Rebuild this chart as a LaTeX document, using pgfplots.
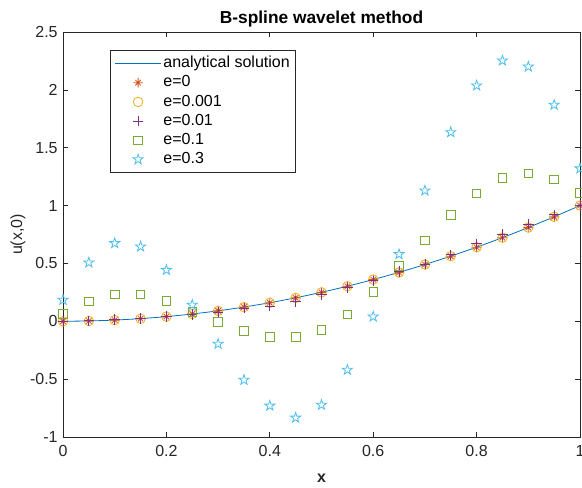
\documentclass[border=0pt]{standalone}
\usepackage{fontspec}
\setmainfont{Liberation Sans}
\usepackage{pgfplots}
\usepackage{pgfplotstable}
\pgfplotsset{compat=1.18}
\usetikzlibrary{calc}

\definecolor{axgray}{HTML}{262626}
\definecolor{mblue}{HTML}{0072BD}
\definecolor{morange}{HTML}{D95319}
\definecolor{myellow}{HTML}{EDB120}
\definecolor{mpurple}{HTML}{7E2F8E}
\definecolor{mgreen}{HTML}{77AC30}
\definecolor{mcyan}{HTML}{4DBEEE}

\newcommand\fs{\fontsize{12}{14}\selectfont}

% MATLAB-like markers
\pgfdeclareplotmark{pentagram}{%
  \pgfpathmoveto{\pgfpointpolar{90}{\pgfplotmarksize}}%
  \pgfpathlineto{\pgfpointpolar{126}{0.382\pgfplotmarksize}}%
  \pgfpathlineto{\pgfpointpolar{162}{\pgfplotmarksize}}%
  \pgfpathlineto{\pgfpointpolar{198}{0.382\pgfplotmarksize}}%
  \pgfpathlineto{\pgfpointpolar{234}{\pgfplotmarksize}}%
  \pgfpathlineto{\pgfpointpolar{270}{0.382\pgfplotmarksize}}%
  \pgfpathlineto{\pgfpointpolar{306}{\pgfplotmarksize}}%
  \pgfpathlineto{\pgfpointpolar{342}{0.382\pgfplotmarksize}}%
  \pgfpathlineto{\pgfpointpolar{18}{\pgfplotmarksize}}%
  \pgfpathlineto{\pgfpointpolar{54}{0.382\pgfplotmarksize}}%
  \pgfpathclose\pgfusepathqstroke}
\pgfdeclareplotmark{ast8}{%
  \pgfpathmoveto{\pgfpointpolar{0}{\pgfplotmarksize}}\pgfpathlineto{\pgfpointpolar{180}{\pgfplotmarksize}}%
  \pgfpathmoveto{\pgfpointpolar{90}{\pgfplotmarksize}}\pgfpathlineto{\pgfpointpolar{270}{\pgfplotmarksize}}%
  \pgfpathmoveto{\pgfpointpolar{45}{0.8\pgfplotmarksize}}\pgfpathlineto{\pgfpointpolar{225}{0.8\pgfplotmarksize}}%
  \pgfpathmoveto{\pgfpointpolar{135}{0.8\pgfplotmarksize}}\pgfpathlineto{\pgfpointpolar{315}{0.8\pgfplotmarksize}}%
  \pgfusepathqstroke}

\pgfplotsset{
  mk/.style={only marks, line width=0.6pt,
    legend image code/.code={\draw[mark repeat=2,mark phase=2,##1] plot coordinates {(0pt,0pt)(17.5pt,0pt)(35pt,0pt)};}},
  ln/.style={legend image code/.code={\draw[##1] (0pt,0pt) -- (35pt,0pt);}},
}

% x, analytical, e=0, e=0.001, e=0.01, e=0.1, e=0.3
\pgfplotstableread{
x     exact   ez      eone    etwo    ethree  efour
0.00  0.0000  0.0000  0.0000  0.000   0.065   0.184
0.05  0.0025  0.0025  0.0025  0.005   0.172   0.507
0.10  0.0100  0.0100  0.0100  0.015   0.232   0.674
0.15  0.0225  0.0225  0.0225  0.025   0.232   0.645
0.20  0.0400  0.0400  0.0400  0.040   0.175   0.443
0.25  0.0625  0.0625  0.0625  0.060   0.083   0.141
0.30  0.0900  0.0900  0.0900  0.080  -0.005  -0.196
0.35  0.1225  0.1225  0.1225  0.115  -0.085  -0.507
0.40  0.1600  0.1600  0.1600  0.130  -0.135  -0.730
0.45  0.2025  0.2025  0.2025  0.170  -0.135  -0.834
0.50  0.2500  0.2500  0.2500  0.230  -0.075  -0.723
0.55  0.3025  0.3025  0.3025  0.290   0.060  -0.420
0.60  0.3600  0.3600  0.3600  0.350   0.253   0.040
0.65  0.4225  0.4225  0.4225  0.430   0.478   0.579
0.70  0.4900  0.4900  0.4900  0.495   0.700   1.129
0.75  0.5625  0.5625  0.5625  0.575   0.920   1.633
0.80  0.6400  0.6400  0.6400  0.670   1.106   2.037
0.85  0.7225  0.7225  0.7225  0.750   1.238   2.253
0.90  0.8100  0.8100  0.8100  0.840   1.276   2.200
0.95  0.9025  0.9025  0.9025  0.920   1.227   1.870
1.00  1.0000  1.0000  1.0000  1.000   1.110   1.320
}\sol

\begin{document}
\begin{tikzpicture}
\begin{axis}[
  scale only axis,
  width=387.75pt, height=303.75pt,
  xmin=0, xmax=1, ymin=-1, ymax=2.5,
  xtick={0,0.2,0.4,0.6,0.8,1},
  xticklabels={0,0.2,0.4,0.6,0.8,1},
  ytick={-1,-0.5,0,0.5,1,1.5,2,2.5},
  yticklabels={-1,-0.5,0,0.5,1,1.5,2,2.5},
  tick align=inside,
  major tick length=3.5pt,
  axis line style={draw=axgray, line width=0.5pt},
  every tick/.style={draw=axgray, line width=0.5pt},
  tick label style={font=\fs, text=axgray},
  xticklabel style={yshift=-3pt},
  yticklabel style={xshift=-0.5pt},
  title={\textbf{B-spline wavelet method}},
  title style={font=\fontsize{13}{15}\selectfont, text=black, at={(0.5,1)}, anchor=south, yshift=-6pt},
  xlabel={\textbf{x}},
  xlabel style={font=\fs, text=axgray, at={(axis description cs:0.5,0)}, anchor=center, yshift=-31pt},
  ylabel={u(x,0)},
  ylabel style={font=\fs, text=axgray, at={(axis description cs:-0.087,0.5)}, rotate=0, anchor=center},
  legend style={at={(0.091,0.955)}, anchor=north west, draw=axgray, line width=0.5pt,
    fill=white, inner xsep=3pt, inner ysep=2.5pt, font=\fs,
    nodes={inner sep=1.2pt, text height=9.2pt, text depth=2.8pt}},
  legend cell align=left,
]
\addplot[mblue, line width=0.6pt, ln] table[x=x, y=exact] {\sol};
\addlegendentry{analytical solution}
\addplot[morange, mk, mark=ast8, mark size=3.6pt] table[x=x, y=ez] {\sol};
\addlegendentry{e=0}
\addplot[myellow, mk, mark=o, mark size=3.6pt] table[x=x, y=eone] {\sol};
\addlegendentry{e=0.001}
\addplot[mpurple, mk, mark=+, mark size=3.9pt] table[x=x, y=etwo] {\sol};
\addlegendentry{e=0.01}
\addplot[mgreen, mk, mark=square, mark size=3.2pt] table[x=x, y=ethree] {\sol};
\addlegendentry{e=0.1}
\addplot[mcyan, mk, mark=pentagram, mark size=4pt] table[x=x, y=efour] {\sol};
\addlegendentry{e=0.3}
\coordinate (bl) at (rel axis cs:0,0);
\coordinate (tr) at (rel axis cs:1,1);
\end{axis}
\pgfresetboundingbox
\path[use as bounding box] ($(bl)+(-47.25pt,-38.25pt)$) rectangle ($(tr)+(1.5pt,24pt)$);
\end{tikzpicture}
\end{document}
